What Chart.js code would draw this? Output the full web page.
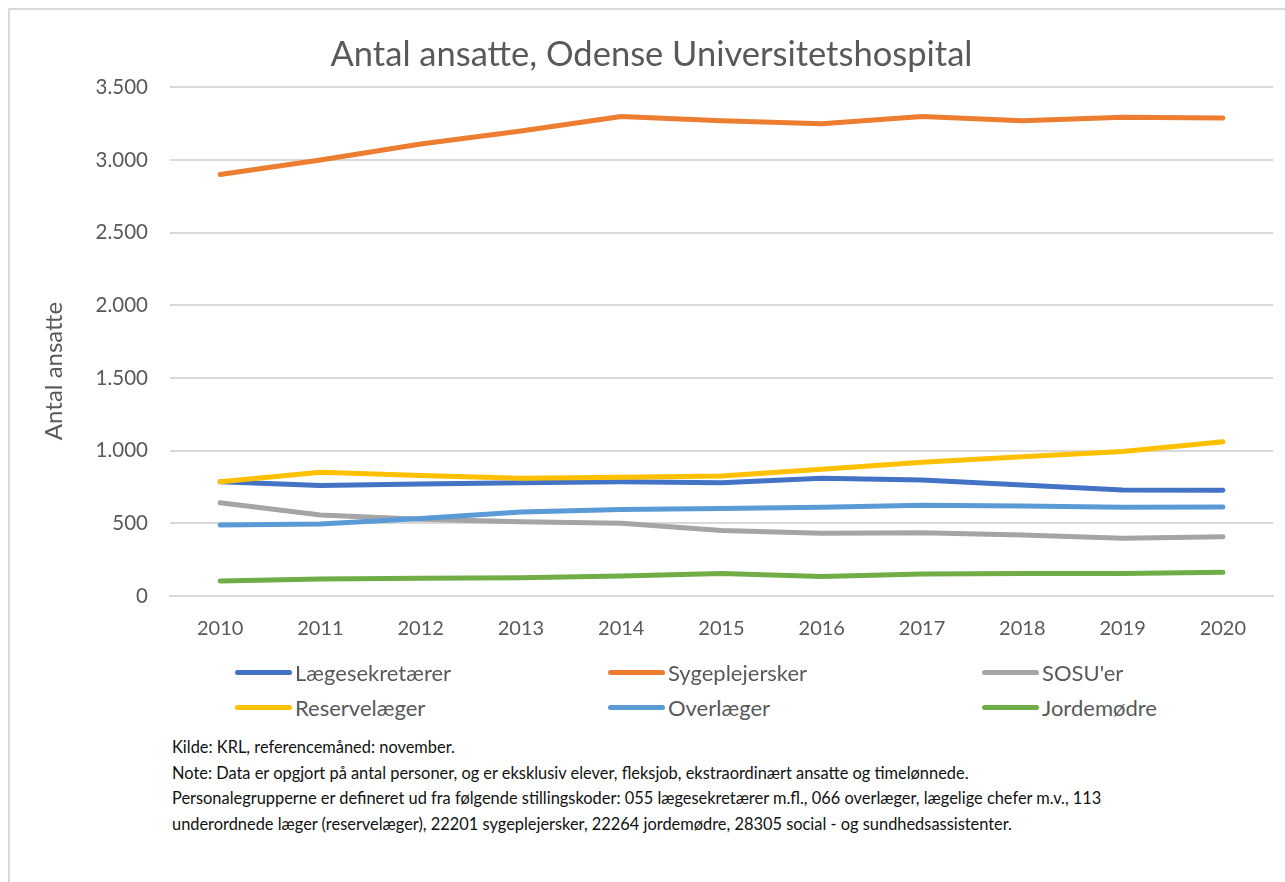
<!DOCTYPE html>
<html>
<head>
<meta charset="utf-8">
<script src="https://cdn.jsdelivr.net/npm/chart.js@4.4.1/dist/chart.umd.min.js"></script>
<style>
  html, body { margin: 0; padding: 0; background: #fff; }
  body { width: 1285px; height: 882px; position: relative; overflow: hidden; font-family: Lato, "Open Sans", sans-serif; }
  #frame { position: absolute; left: 8px; top: 8px; width: 1320px; height: 920px; border: 2px solid #d9d9d9; box-sizing: border-box; }
  #wrap { position: absolute; left: 0; top: 0; width: 1285px; height: 660px; }
  .leg { position: absolute; display: flex; align-items: center; font-size: 22px; color: #595959; white-space: nowrap; }
  .sw { width: 57px; height: 5px; border-radius: 3px; margin-right: 3px; }
  #notes { position: absolute; left: 172px; top: 734px; font-size: 16.4px; line-height: 25.6px; color: #111; white-space: nowrap; }
</style>
</head>
<body>
<div id="frame"></div>
<div id="wrap"><canvas id="c" width="1285" height="660"></canvas></div>
<div id="legend"></div>
<div id="notes">
  <div>Kilde: KRL, referencemåned: november.</div>
  <div>Note: Data er opgjort på antal personer, og er eksklusiv elever, fleksjob, ekstraordinært ansatte og timelønnede.</div>
  <div>Personalegrupperne er defineret ud fra følgende stillingskoder: 055 lægesekretærer m.fl., 066 overlæger, lægelige chefer m.v., 113</div>
  <div>underordnede læger (reservelæger), 22201 sygeplejersker, 22264 jordemødre, 28305 social - og sundhedsassistenter.</div>
</div>
<script>
const years = ["2010","2011","2012","2013","2014","2015","2016","2017","2018","2019","2020"];
const seriesNames = ["Lægesekretærer","Sygeplejersker","SOSU'er","Reservelæger","Overlæger","Jordemødre"];
const laegesekretaerer = [787, 761, 771, 780, 787, 780, 810, 798, 764, 729, 727];
const sygeplejersker   = [2900, 3000, 3110, 3200, 3300, 3270, 3250, 3300, 3270, 3295, 3290];
const sosuer           = [642, 557, 528, 511, 500, 450, 431, 436, 420, 397, 408];
const reservelaeger    = [787, 851, 830, 810, 818, 826, 872, 920, 959, 995, 1062];
const overlaeger       = [489, 495, 534, 578, 596, 603, 610, 624, 619, 610, 612];
const jordemoedre      = [103, 117, 122, 126, 138, 154, 135, 151, 154, 154, 163];
const colors = ["#4472C4","#ED7D31","#A5A5A5","#FFC000","#5B9BD5","#70AD47"];
const yTicks = [0, 500, 1000, 1500, 2000, 2500, 3000, 3500];
const yTitle = "Antal ansatte";

const allSeries = [laegesekretaerer, sygeplejersker, sosuer, reservelaeger, overlaeger, jordemoedre];
const font = "Lato, 'Open Sans', sans-serif";

const datasets = allSeries.map((d, i) => ({
  label: seriesNames[i],
  data: d,
  borderColor: colors[i],
  backgroundColor: colors[i],
  borderWidth: 5,
  borderCapStyle: 'round',
  borderJoinStyle: 'round',
  pointRadius: 0,
  tension: 0,
  fill: false,
  order: allSeries.length - 1 - i
}));

const yTitlePlugin = {
  id: 'yTitle',
  afterDraw(chart) {
    const ctx = chart.ctx;
    ctx.save();
    ctx.translate(54, 371);
    ctx.rotate(-Math.PI / 2);
    ctx.font = "24px " + font;
    ctx.fillStyle = '#595959';
    ctx.textAlign = 'center';
    ctx.textBaseline = 'middle';
    ctx.fillText(yTitle, 0, 0);
    ctx.restore();
  }
};

new Chart(document.getElementById('c'), {
  type: 'line',
  data: { labels: years, datasets },
  plugins: [yTitlePlugin],
  options: {
    responsive: false,
    animation: false,
    layout: { padding: { left: 30, right: 12, top: 0, bottom: 0 } },
    plugins: {
      legend: { display: false },
      tooltip: { enabled: false },
      title: {
        display: true,
        text: 'Antal ansatte, Odense Universitetshospital',
        color: '#595959',
        font: { family: font, size: 34.5, weight: 'normal' },
        padding: { top: 34, bottom: 12 }
      }
    },
    scales: {
      x: {
        offset: true,
        grid: { display: false, drawTicks: false },
        border: { display: true, color: '#d9d9d9', width: 2 },
        ticks: { color: '#595959', font: { family: font, size: 20 }, padding: 21, maxRotation: 0 },
        afterFit: (s) => { s.height = 64; }
      },
      y: {
        min: 0, max: 3500,
        afterBuildTicks: (s) => { s.ticks = yTicks.map(v => ({ value: v })); },
        afterFit: (s) => { s.width = 140; },
        grid: { color: '#d9d9d9', lineWidth: 2, drawTicks: false },
        border: { display: false },
        ticks: {
          color: '#595959', font: { family: font, size: 20.5 }, padding: 22,
          callback: (v) => v.toLocaleString('da-DK')
        }
      }
    }
  }
});

// legend grid
const legendPos = [[235, 672], [608, 672], [982, 672], [235, 707], [608, 707], [982, 707]];
const legendEl = document.getElementById('legend');
seriesNames.forEach((name, i) => {
  const it = document.createElement('div');
  it.className = 'leg';
  it.style.left = legendPos[i][0] + 'px';
  it.style.top = (legendPos[i][1] - 14) + 'px';
  it.style.height = '28px';
  const sw = document.createElement('div');
  sw.className = 'sw';
  sw.style.background = colors[i];
  const tx = document.createElement('span');
  tx.textContent = name;
  it.appendChild(sw); it.appendChild(tx);
  legendEl.appendChild(it);
});
</script>
</body>
</html>
